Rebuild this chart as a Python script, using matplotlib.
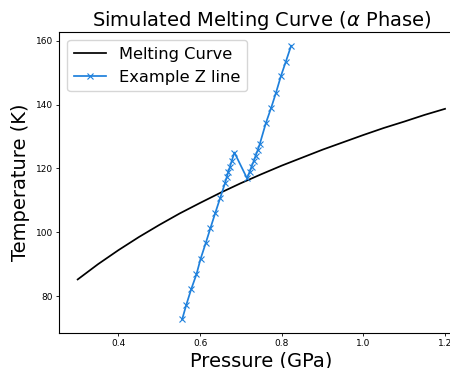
import matplotlib
matplotlib.use("Agg")
import matplotlib.pyplot as plt

# Melting curve
melt_p = [0.30, 0.35, 0.40, 0.45, 0.50, 0.55, 0.60, 0.65, 0.70, 0.75,
          0.80, 0.85, 0.90, 0.95, 1.00, 1.05, 1.10, 1.15, 1.20]
melt_t = [85.2, 90.0, 94.4, 98.5, 102.3, 105.9, 109.2, 112.4, 115.4, 118.2,
          120.9, 123.4, 125.9, 128.2, 130.5, 132.7, 134.7, 136.8, 138.7]

# Example Z line
z_p = [0.556, 0.566, 0.578, 0.591, 0.601, 0.614, 0.625, 0.637, 0.649, 0.661,
       0.665, 0.669, 0.673, 0.677, 0.684,
       0.715,
       0.721, 0.726, 0.731, 0.736, 0.741, 0.746, 0.761, 0.774, 0.786, 0.798,
       0.810, 0.823]
z_t = [72.7, 77.2, 82.1, 86.8, 91.6, 96.7, 101.2, 106.0, 110.7, 115.4,
       117.2, 118.9, 120.5, 122.2, 125.0,
       116.9,
       118.9, 120.6, 122.2, 124.0, 125.7, 127.6, 134.2, 139.0, 143.8, 149.0,
       153.5, 158.5]

fig = plt.figure(figsize=(4.5, 3.68), dpi=100)
ax = fig.add_axes([59.3 / 450, 35 / 368, (463.4 - 59.3) / 450, (333 - 32) / 368])

ax.plot(melt_p, melt_t, color="black", lw=1.25, label="Melting Curve")
ax.plot(z_p, z_t, color="#1E80DC", lw=1.25, marker="x", ms=4, mew=0.8,
        label="Example Z line")

ax.set_xlabel("Pressure (GPa)", fontsize=14, labelpad=2)
ax.set_ylabel("Temperature (K)", fontsize=14, labelpad=4)
ax.set_title(r"Simulated Melting Curve ($\alpha$ Phase)", fontsize=14, pad=4)
ax.tick_params(labelsize=6.5, length=2.5, width=0.6, pad=2)
ax.set_xticks([0.4, 0.6, 0.8, 1.0, 1.2])
ax.set_yticks([80, 100, 120, 140, 160])
ax.legend(loc="upper left", fontsize=11.7, handlelength=2.0)

fig.savefig("out.png", dpi=100)
